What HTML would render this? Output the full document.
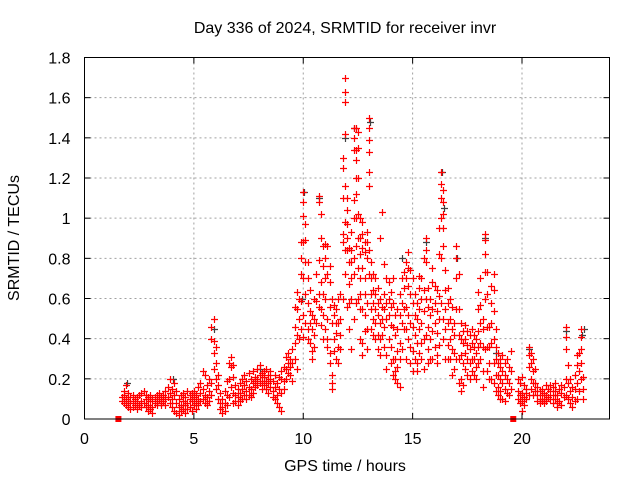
<!DOCTYPE html>
<html><head><meta charset="utf-8"><style>
body{margin:0;background:#fff;}
svg{display:block;font-family:"Liberation Sans",sans-serif;}
</style></head><body>
<svg id="chart" width="640" height="480" viewBox="0 0 640 480">
<rect x="0" y="0" width="640" height="480" fill="#fff"/>
<text x="345" y="33" font-size="16" text-anchor="middle" fill="#000">Day 336 of 2024, SRMTID for receiver invr</text>
<text x="345" y="471" font-size="16" text-anchor="middle" fill="#000">GPS time / hours</text>
<text x="0" y="0" font-size="16" text-anchor="middle" fill="#000" transform="translate(19,238) rotate(-90)">SRMTID / TECUs</text>
<g id="grid"></g>
<g id="marks"></g>
<rect x="84.5" y="57.5" width="525" height="361.5" fill="none" stroke="#000" stroke-width="1"/>
<g id="ticks"></g>
</svg>
<script>
const xTicks = [0,5,10,15,20];
const yTicks = [0,0.2,0.4,0.6,0.8,1,1.2,1.4,1.6,1.8];
const yTickLabels = ["0","0.2","0.4","0.6","0.8","1","1.2","1.4","1.6","1.8"];
const missingHours = [1.55,19.6];
const grayHours = [1.9,4.0,5.9,8.0,9.9,10.0,10.7,11.9,12.3,13.0,14.5,15.6,16.3,16.4,17.0,18.3,18.8,20.3,22.0,22.7,22.8];
const grayValues = [0.18,0.20,0.45,0.25,0.60,1.13,1.10,1.40,1.45,1.48,0.80,0.88,1.23,1.05,0.80,0.90,0.33,0.35,0.44,0.42,0.45];
const hours = [1.7,1.8,1.9,2.0,2.1,2.2,2.3,2.4,2.5,2.6,2.7,2.8,2.9,3.0,3.1,3.2,3.3,3.4,3.5,3.6,3.7,3.8,3.9,4.0,4.1,4.2,4.3,4.4,4.5,4.6,4.7,4.8,4.9,5.0,5.1,5.2,5.3,5.4,5.5,5.6,5.7,5.8,5.9,6.0,6.1,6.2,6.3,6.4,6.5,6.6,6.7,6.8,6.9,7.0,7.1,7.2,7.3,7.4,7.5,7.6,7.7,7.8,7.9,8.0,8.1,8.2,8.3,8.4,8.5,8.6,8.7,8.8,8.9,9.0,9.1,9.2,9.3,9.4,9.5,9.6,9.7,9.8,9.9,10.0,10.1,10.2,10.3,10.4,10.5,10.6,10.7,10.8,10.9,11.0,11.1,11.2,11.3,11.4,11.5,11.6,11.7,11.8,11.9,12.0,12.1,12.2,12.3,12.4,12.5,12.6,12.7,12.8,12.9,13.0,13.1,13.2,13.3,13.4,13.5,13.6,13.7,13.8,13.9,14.0,14.1,14.2,14.3,14.4,14.5,14.6,14.7,14.8,14.9,15.0,15.1,15.2,15.3,15.4,15.5,15.6,15.7,15.8,15.9,16.0,16.1,16.2,16.3,16.4,16.5,16.6,16.7,16.8,16.9,17.0,17.1,17.2,17.3,17.4,17.5,17.6,17.7,17.8,17.9,18.0,18.1,18.2,18.3,18.4,18.5,18.6,18.7,18.8,18.9,19.0,19.1,19.2,19.3,19.4,19.5,19.8,19.9,20.0,20.1,20.2,20.3,20.4,20.5,20.6,20.7,20.8,20.9,21.0,21.1,21.2,21.3,21.4,21.5,21.6,21.7,21.8,21.9,22.0,22.1,22.2,22.3,22.4,22.5,22.6,22.7,22.8];
const valuesAtHour = [
[.11,.09],[.12,.08,.14],[.17,.10,.07],[.13,.09,.06],[.11,.08,.05],[.09,.06,.12],[.07,.10],[.08,.05,.11],[.12,.07],[.09,.13,.06],
[.14,.08],[.10,.06,.12],[.07,.11,.04],[.09,.05,.12],[.06,.03,.10],[.08,.11],[.12,.07,.09],[.10,.13],[.08,.11,.07],[.09,.12],
[.07,.10,.14],[.11,.16],[.20,.13,.08],[.15,.10,.06],[.18,.12,.04],[.14,.08,.03],[.10,.06,.02],[.07,.12,.04],[.09,.13,.05],[.11,.07,.03],
[.08,.14,.05],[.12,.06,.10],[.09,.13,.04],[.11,.07,.14],[.08,.05,.12],[.10,.16,.07],[.13,.09,.18],[.24,.15,.10],[.22,.12,.08],[.17,.11,.07],
[.14,.09,.20],[.46,.40,.18,.12],[.50,.39,.33,.25],[.36,.28,.20,.15],[.22,.17,.10],[.13,.08,.05],[.10,.06,.03],[.14,.08,.04],[.19,.12,.07],[.28,.20,.11],
[.31,.26,.16],[.27,.21,.13,.08],[.17,.12,.09],[.15,.11,.07],[.18,.13,.09],[.20,.15,.10],[.17,.12,.22],[.19,.14,.10],[.23,.16,.12],[.20,.15,.11],
[.24,.18,.13],[.21,.16,.19],[.25,.20,.17],[.27,.22,.18],[.23,.19,.15],[.21,.17,.24],[.25,.19,.15],[.22,.18,.13],[.24,.20,.16],[.19,.14,.11],
[.22,.16,.10],[.18,.12,.08],[.21,.15,.06],[.20,.13,.04,.24],[.26,.19,.15],[.31,.25,.20],[.33,.28,.23],[.30,.26,.22],[.35,.28,.19],[.56,.46,.38,.30],
[.63,.55,.42,.25],[.60,.50,.40],[.88,.80,.72,.59,.45],[1.13,1.08,1.01,.88,.70,.52,.41],[.97,.89,.78,.62,.48],[.78,.70,.58,.45,.40],[.64,.54,.48,.38],[.52,.45,.34,.30],[.60,.50,.42,.36],[.72,.59,.48],
[1.11,1.08,.79,.62,.56],[1.02,.90,.68,.55,.47],[.86,.76,.62,.52,.40],[.87,.80,.70,.60,.45],[.86,.72,.50,.40,.36],[.76,.68,.56,.33,.28],[.60,.48,.22,.18,.15],[.57,.52,.40,.34],[.55,.48,.43,.30],[.60,.48,.36,.28],
[.62,.50,.42,.35],[1.30,1.25,1.10,.92,.88,.60],[1.70,1.63,1.58,1.42,1.16,.98,.84,.72],[1.10,1.04,.97,.90,.84,.56],[.85,.78,.67,.58,.45],[.93,.84,.78,.70,.60,.35],[1.45,1.40,1.34,1.09,1.00,.80,.72,.50],[1.45,1.34,1.29,1.20,1.12,1.00,.86,.58],[1.43,1.35,1.20,1.02,.90,.75,.60],[1.00,.90,.82,.70,.62,.55,.40],
[.98,.92,.85,.75,.55,.38,.32],[.88,.83,.70,.62,.52,.44],[.93,.88,.80,.58,.45,.35],[1.50,1.45,1.39,1.33,1.23,1.16,.84,.72],[.78,.70,.62,.55,.45],[.72,.64,.58,.50,.42],[.70,.62,.55,.48,.40],[.65,.58,.52,.42,.35],[.90,.60,.48,.40,.32],[1.03,.56,.50,.42],
[.77,.62,.55,.46,.36],[.70,.58,.50,.32,.25],[.68,.60,.52,.40],[.63,.56,.47,.36,.28],[.70,.58,.46,.30,.22],[.52,.42,.30,.24,.20],[.55,.45,.34,.26,.18],[.62,.52,.38,.30,.16],[.70,.58,.48,.35],[.73,.65,.55,.45],
[.78,.70,.56,.45,.30],[.83,.75,.66,.52,.40],[.74,.62,.48,.36,.28],[.70,.58,.46,.34,.24],[.62,.52,.42,.30],[.58,.50,.38,.28,.24],[.71,.65,.55,.45,.33],[.70,.60,.48,.38,.30],[.80,.64,.54,.40,.25],[.90,.84,.78,.60,.42],
[.65,.56,.46,.35,.28],[.60,.52,.40,.30],[.75,.68,.55,.44,.30],[.66,.58,.48,.36],[.64,.54,.43,.32,.28],[.95,.82,.61,.50,.37],[1.23,1.17,1.10,1.00,.80,.58],[1.14,1.08,1.02,.95,.86,.50,.40],[.74,.64,.55,.45,.30],[.65,.58,.48,.37,.30],
[.60,.50,.40,.30],[.56,.45,.35,.22],[.48,.42,.33,.25],[.86,.80,.70,.55,.30],[.72,.55,.42,.30,.18],[.48,.40,.32,.20,.14],[.44,.38,.28,.17],[.47,.40,.33,.25],[.44,.37,.30,.22],[.42,.35,.28,.20],
[.45,.38,.30,.24],[.42,.36,.30,.22],[.40,.33,.26,.20],[.63,.55,.44,.36,.28],[.70,.57,.48,.38,.30],[.50,.45,.36,.24,.16],[.92,.89,.82,.73,.60,.35],[.73,.62,.46,.36,.24],[.46,.36,.28,.20],[.66,.58,.48,.38,.20],
[.72,.64,.54,.40,.28,.18],[.45,.36,.30,.22,.14],[.33,.28,.22,.16,.12],[.30,.26,.20,.14,.10],[.32,.24,.18,.10],[.28,.22,.15,.09],[.30,.20,.13],[.26,.18,.12],[.34,.24,.15],[.20,.14,.10],
[.18,.12,.08],[.21,.13,.04,.09],[.17,.11,.07],[.15,.10,.13],[.36,.32,.26,.12],[.33,.28,.20,.15],[.30,.24,.18,.12],[.25,.18,.14],[.16,.12,.09],[.14,.10,.08],
[.12,.09,.15],[.10,.08,.13],[.17,.12,.09],[.15,.11],[.14,.10,.17],[.16,.12,.08],[.14,.10,.18],[.12,.08,.06],[.15,.09],[.13,.07,.17],
[.16,.11],[.46,.41,.35,.20,.12],[.27,.18,.10],[.20,.14,.08],[.16,.11,.06],[.22,.15,.09],[.32,.27,.18,.10],[.33,.24,.14],[.45,.41,.35,.28,.20],[.21,.15,.10]
];
const NS="http://www.w3.org/2000/svg";
const X0=84.5,X1=609.5,Y0=419,Y1=57.5,XMAX=24,YMAX=1.8;
function xs(h){return X0+(X1-X0)*h/XMAX;}
function ys(v){return Y0-(Y0-Y1)*v/YMAX;}
function mk(tag,attrs,parent){const e=document.createElementNS(NS,tag);for(const k in attrs)e.setAttribute(k,attrs[k]);parent.appendChild(e);return e;}
const grid=document.getElementById('grid'),ticks=document.getElementById('ticks'),marks=document.getElementById('marks');
xTicks.forEach((t,i)=>{
  const x=xs(t);
  if(i>0){const g=mk('line',{x1:x,y1:Y1,x2:x,y2:Y0,stroke:'#a0a0a0','stroke-dasharray':'2,3'},grid);
  
  }
  mk('line',{x1:x,y1:Y0,x2:x,y2:Y0-6,stroke:'#000'},ticks);
  mk('line',{x1:x,y1:Y1,x2:x,y2:Y1+6,stroke:'#000'},ticks);
  const tx=mk('text',{x:x,y:Y0+25,'font-size':16,'text-anchor':'middle',fill:'#000'},ticks);
  tx.textContent=String(t);
  
  
});
yTicks.forEach((t,i)=>{
  const y=ys(t);
  if(i>0&&i<yTicks.length-1){const g=mk('line',{x1:X0,y1:y,x2:X1,y2:y,stroke:'#a0a0a0','stroke-dasharray':'2,3'},grid);
  
  }
  mk('line',{x1:X0,y1:y,x2:X0+6,y2:y,stroke:'#000'},ticks);
  mk('line',{x1:X1,y1:y,x2:X1-6,y2:y,stroke:'#000'},ticks);
  const tx=mk('text',{x:X0-14,y:y+6,'font-size':16,'text-anchor':'end',fill:'#000'},ticks);
  tx.textContent=yTickLabels[i];
  
  
});
function plus(h,v,color){
  const x=Math.round(xs(h))+0.5,y=Math.round(ys(v))+0.5;
  const p=mk('path',{d:`M${x-3.5} ${y}H${x+3.5}M${x} ${y-3.5}V${y+3.5}`,stroke:color,'stroke-width':1.2,fill:'none'},marks);
  
  
}
grayHours.forEach((h,i)=>plus(h+0.03,grayValues[i],'#404040'));
hours.forEach((h,i)=>valuesAtHour[i].forEach(v=>plus(h,v,'#ff0000')));
missingHours.forEach(h=>{
  const r=mk('rect',{x:xs(h)-3,y:Y0-3,width:6,height:6,fill:'#ff0000'},marks);
  
  
});
</script>
</body></html>
